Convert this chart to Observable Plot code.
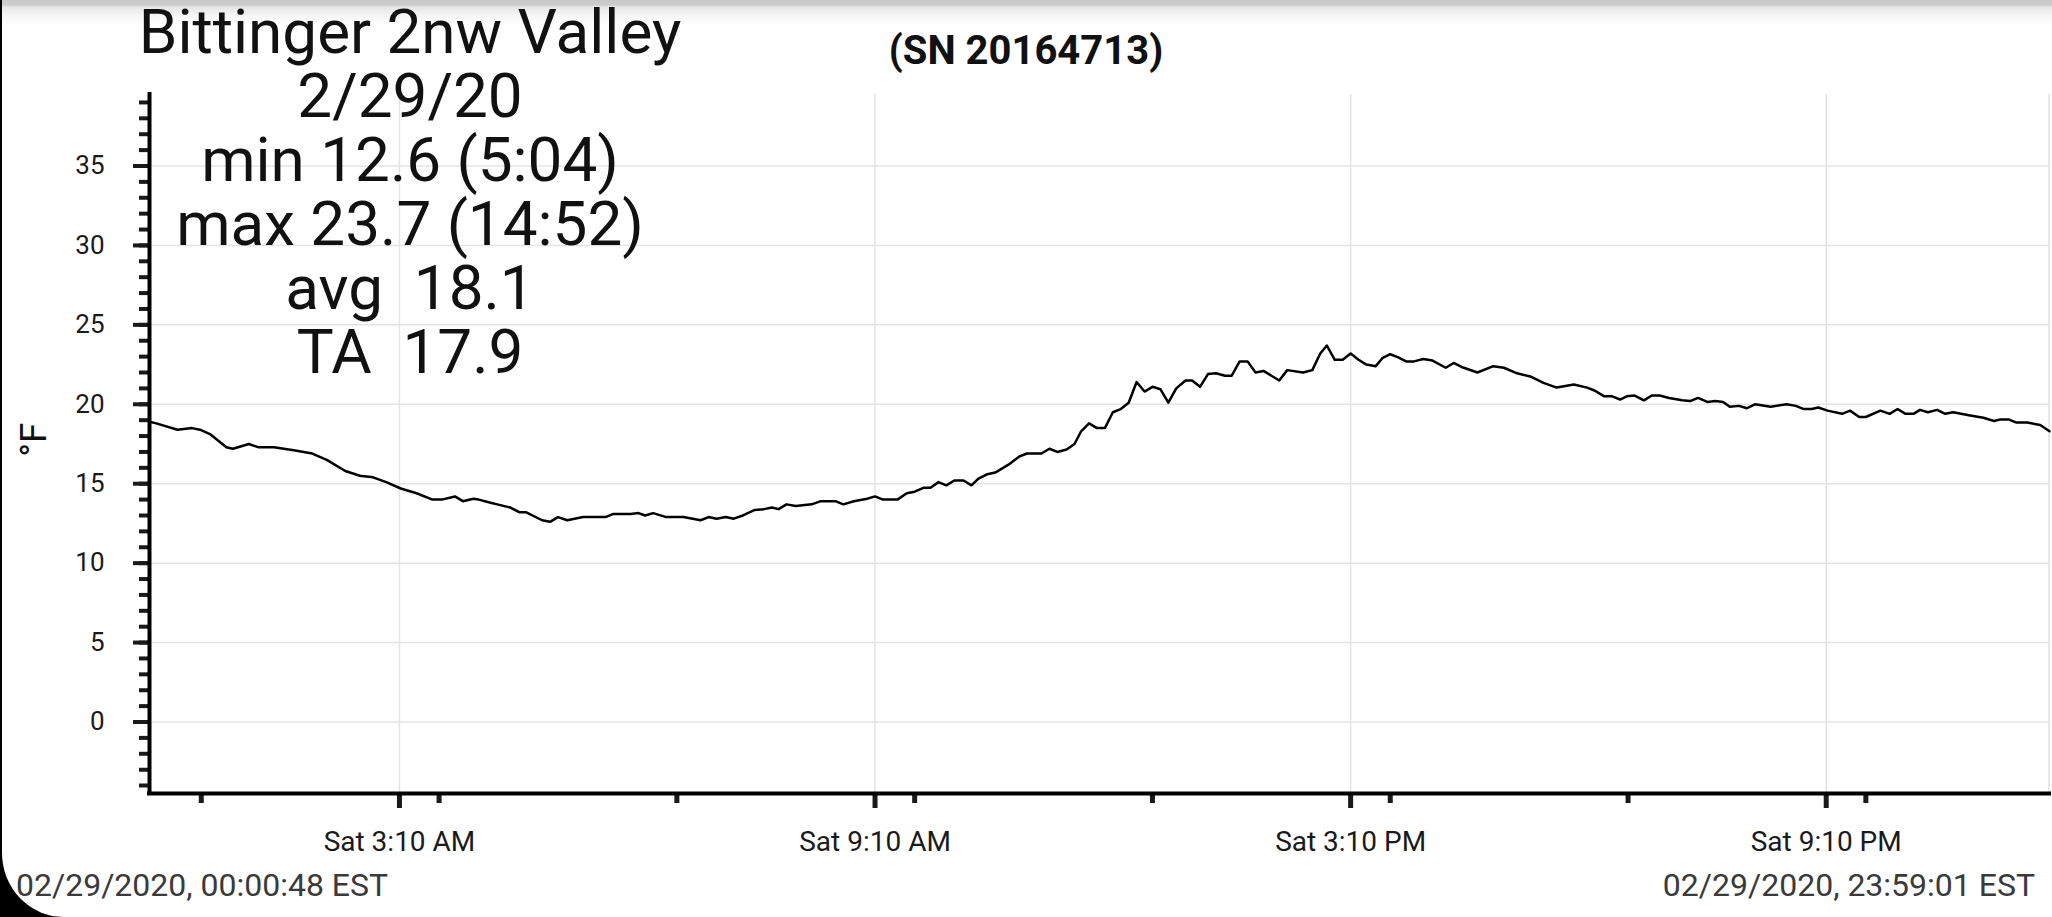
<!DOCTYPE html>
<html>
<head>
<meta charset="utf-8">
<script src="https://cdn.jsdelivr.net/npm/d3@7"></script>
<script src="https://cdn.jsdelivr.net/npm/@observablehq/plot@0.6"></script>
<style>
  html, body { margin: 0; padding: 0; background: #000; }
  #screen { position: absolute; left: 0; top: 0; width: 2052px; height: 917px; box-sizing: border-box;
    background: #fff; border-left: 2px solid #000; border-bottom-left-radius: 64px; overflow: hidden;
    font-family: Roboto, "Noto Sans", sans-serif; }
  #topbar { position: absolute; left: 0; top: 0; width: 2052px; height: 26px;
    background: linear-gradient(#c8c8c8 0px, #cdcdcd 5px, #e6e6e6 7px, #f6f6f6 16px, #ffffff 26px); }
  #chart { position: absolute; left: -2px; top: 0; }
  .t { position: absolute; white-space: nowrap; }
  #title { left: 108px; top: 0px; width: 600px; text-align: center; font-size: 62px; line-height: 64px; color: #111; }
  #sn { left: 724px; width: 600px; text-align: center; font-size: 40px; font-weight: 700; line-height: 47px; top: 27px; color: #111; }
  #ylab { left: -17.9px; top: 418.3px; width: 100px; height: 43.4px; text-align: center; font-size: 37px; line-height: 43.4px; transform: rotate(-90deg); color: #111; }
  #fl { left: 14px; top: 867px; font-size: 32px; line-height: 37.5px; color: #3a3a3a; }
  #fr { right: 17px; top: 867px; font-size: 32px; line-height: 37.5px; color: #3a3a3a; }
  #redge { position: absolute; left: 2046px; top: 94px; width: 2px; height: 700px; background: #e8e8e8; }
</style>
</head>
<body>
<div id="screen">
  <div id="topbar"></div>
  <div id="redge"></div>
  <div id="chart"></div>
  <div class="t" id="title"></div>
  <div class="t" id="sn"></div>
  <div class="t" id="ylab"></div>
  <div class="t" id="fl"></div>
  <div class="t" id="fr"></div>
</div>
<script>
// ---- text ----
const titleLines = ["Bittinger 2nw Valley", "2/29/20", "min 12.6 (5:04)", "max 23.7 (14:52)", "avg\u00a0 18.1", "TA\u00a0 17.9"];
const serial = "(SN 20164713)";
const yLabel = "°F";
const footerLeft = "02/29/2020, 00:00:48 EST";
const footerRight = "02/29/2020, 23:59:01 EST";

// ---- data (EST clock times on 2020-02-29, °F) ----
const times = [
 "00:00:48","00:06","00:22","00:33","00:39","00:47","00:59","01:04","01:16","01:23","01:35","01:50",
 "02:04","02:15","02:29","02:40","02:50","03:00","03:11","03:23","03:35","03:42","03:52","03:58",
 "04:06","04:10","04:19","04:24","04:34","04:41","04:46","04:58","05:04","05:10","05:17","05:29",
 "05:46","05:52","06:05","06:11","06:16","06:22","06:32","06:45","06:58","07:04","07:10","07:17",
 "07:23","07:30","07:39","07:46","07:52","07:57","08:03","08:10","08:22","08:29","08:40","08:46",
 "08:54","09:04","09:10","09:16","09:27","09:34","09:40","09:47","09:52","09:58","10:04","10:10",
 "10:17","10:23","10:28","10:35","10:41","10:51","10:59","11:05","11:16","11:22","11:28","11:35",
 "11:41","11:46","11:52","11:58","12:04","12:10","12:16","12:22","12:28","12:34","12:40","12:46",
 "12:52","12:58","13:05","13:10","13:16","13:22","13:28","13:35","13:40","13:46","13:52","13:58",
 "14:04","14:16","14:22","14:34","14:41","14:47","14:52","14:58","15:04","15:10","15:16","15:22",
 "15:29","15:34","15:40","15:46","15:52","15:58","16:05","16:12","16:22","16:28","16:34","16:46",
 "16:58","17:06","17:16","17:26","17:36","17:46","17:59","18:09","18:15","18:22","18:28","18:34",
 "18:39","18:45","18:52","18:58","19:04","19:11","19:21","19:27","19:33","19:40","19:46","19:52",
 "19:57","20:04","20:10","20:16","20:28","20:40","20:47","20:53","20:59","21:04","21:11","21:22",
 "21:28","21:35","21:40","21:51","21:58","22:04","22:10","22:16","22:21","22:27","22:34","22:40",
 "22:46","22:59","23:09","23:17","23:22","23:28","23:34","23:42","23:52","23:59:01"
];
const temps = [
 18.9,18.8,18.4,18.5,18.4,18.1,17.3,17.2,17.5,17.3,17.3,17.1,
 16.9,16.5,15.8,15.5,15.4,15.1,14.7,14.4,14.0,14.0,14.2,13.9,
 14.05,14.0,13.8,13.7,13.5,13.2,13.2,12.7,12.6,12.9,12.7,12.9,
 12.9,13.1,13.1,13.15,13.0,13.15,12.9,12.9,12.7,12.9,12.8,12.9,
 12.8,13.0,13.35,13.4,13.5,13.4,13.7,13.6,13.7,13.9,13.9,13.7,
 13.9,14.05,14.2,14.0,14.0,14.4,14.5,14.75,14.75,15.1,14.9,15.2,
 15.2,14.9,15.3,15.6,15.7,16.2,16.7,16.9,16.9,17.2,17.0,17.15,
 17.5,18.3,18.8,18.5,18.5,19.5,19.7,20.1,21.4,20.8,21.1,20.95,
 20.1,21.0,21.5,21.5,21.1,21.9,21.95,21.8,21.8,22.7,22.7,22.0,
 22.1,21.5,22.15,22.0,22.15,23.2,23.7,22.8,22.8,23.2,22.8,22.5,
 22.4,22.9,23.15,22.95,22.7,22.7,22.85,22.75,22.3,22.6,22.35,22.0,
 22.4,22.3,21.95,21.75,21.35,21.05,21.25,21.05,20.85,20.5,20.5,20.3,
 20.5,20.55,20.25,20.55,20.55,20.4,20.25,20.2,20.4,20.15,20.2,20.15,
 19.85,19.9,19.75,20.0,19.85,20.0,19.9,19.7,19.7,19.8,19.6,19.4,
 19.6,19.2,19.2,19.6,19.4,19.7,19.4,19.4,19.65,19.5,19.65,19.4,
 19.5,19.3,19.15,18.95,19.05,19.05,18.85,18.85,18.7,18.3
];

// ---- axes ----
const xDomainTimes = ["00:00:48", "23:59:01"];
const majorTickTimes = ["03:10", "09:10", "15:10", "21:10"];
const majorTickLabels = ["Sat 3:10 AM", "Sat 9:10 AM", "Sat 3:10 PM", "Sat 9:10 PM"];
const minorTickTimes = ["00:40", "03:40", "06:40", "09:40", "12:40", "15:40", "18:40", "21:40"];
const yDomain = [-4.5, 39.5];
const yMajorTicks = [0, 5, 10, 15, 20, 25, 30, 35];
const yMinorTicks = d3.range(-4, 40, 1);

function toDate(s) {
  const p = s.split(":").map(Number);
  return new Date(Date.UTC(2020, 1, 29, p[0], p[1], p[2] || 0));
}

const data = times.map((t, i) => ({date: toDate(t), temp: temps[i]}));
const xDomain = xDomainTimes.map(toDate);
const majorTicks = majorTickTimes.map(toDate);
const minorTicks = minorTickTimes.map(toDate);
const labelFor = new Map(majorTicks.map((d, i) => [+d, majorTickLabels[i]]));

const chart = Plot.plot({
  width: 2052,
  height: 917,
  marginLeft: 149,
  marginRight: 3,
  marginTop: 94,
  marginBottom: 124,
  style: {fontFamily: "Roboto, 'Noto Sans', sans-serif", color: "#1a1a1a", background: "transparent", overflow: "visible"},
  x: {type: "utc", domain: xDomain, label: null},
  y: {domain: yDomain, label: null},
  marks: [
    Plot.gridY(yMajorTicks, {stroke: "#e4e4e4", strokeOpacity: 1, strokeWidth: 1.5}),
    Plot.gridX(majorTicks, {stroke: "#e4e4e4", strokeOpacity: 1, strokeWidth: 1.5}),
    Plot.axisY({ticks: yMinorTicks, tickSize: 10, strokeWidth: 4, tickFormat: () => "", label: null}),
    Plot.axisY({ticks: yMajorTicks, tickSize: 16, tickPadding: 29, strokeWidth: 4, fontSize: 26, label: null}),
    Plot.axisX({ticks: minorTicks, tickSize: 10, strokeWidth: 5, tickFormat: () => "", label: null}),
    Plot.axisX({ticks: majorTicks, tickSize: 15, tickPadding: 23, strokeWidth: 5, fontSize: 28,
      tickFormat: d => labelFor.get(+d), label: null}),
    Plot.ruleY([yDomain[0]], {stroke: "#000", strokeWidth: 4, strokeLinecap: "square"}),
    Plot.ruleX([xDomain[0]], {stroke: "#000", strokeWidth: 4, strokeLinecap: "square"}),
    Plot.line(data, {x: "date", y: "temp", stroke: "#000", strokeWidth: 2.5, strokeLinejoin: "round"})
  ]
});
document.getElementById("chart").appendChild(chart);

document.getElementById("title").innerHTML = titleLines.join("<br>");
document.getElementById("sn").textContent = serial;
document.getElementById("ylab").textContent = yLabel;
document.getElementById("fl").textContent = footerLeft;
document.getElementById("fr").textContent = footerRight;
</script>
</body>
</html>
